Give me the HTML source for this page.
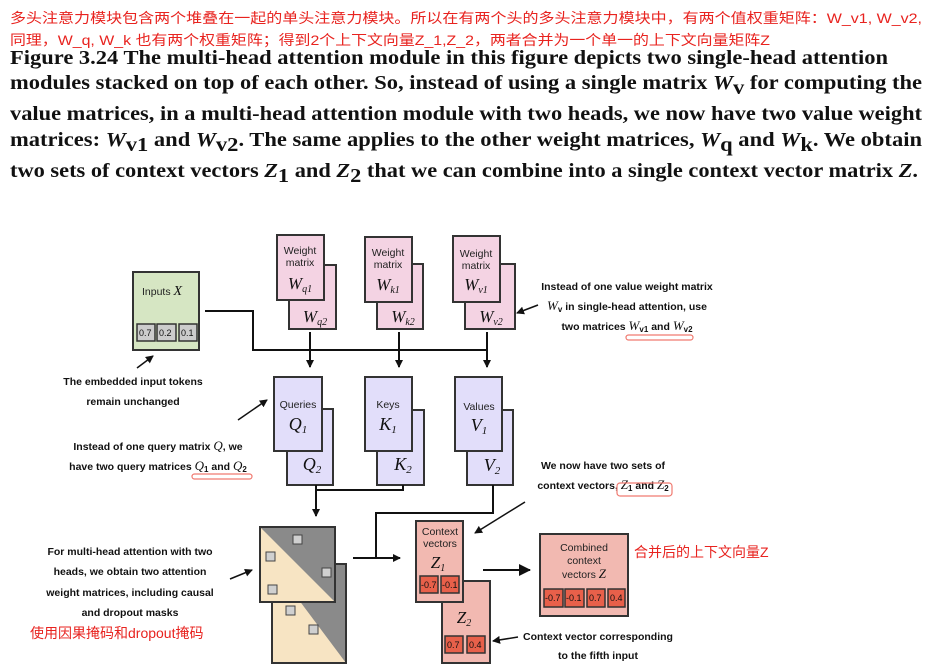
<!DOCTYPE html>
<html><head><meta charset="utf-8"><style>
html,body{margin:0;padding:0;background:#fff;}
svg{display:block;}
.cap{font-family:"Liberation Serif",serif;font-weight:bold;font-size:20px;fill:#111;}
.cn{font-family:"Liberation Sans","Noto Sans CJK SC",sans-serif;font-size:14px;fill:#e8231f;}
.an{font-family:"Liberation Sans",sans-serif;font-weight:bold;font-size:10.5px;fill:#111;}
.lb{font-family:"Liberation Sans",sans-serif;font-size:10.5px;fill:#222;}
.mi{font-family:"Liberation Serif",serif;font-style:italic;fill:#111;}
.cell{font-family:"Liberation Sans",sans-serif;font-size:9px;fill:#111;}
</style></head><body>
<svg width="937" height="666" viewBox="0 0 937 666" xmlns="http://www.w3.org/2000/svg">
<defs><marker id="ah" markerWidth="8" markerHeight="8" refX="7" refY="4" orient="auto" markerUnits="userSpaceOnUse"><path d="M0,0 L8,4 L0,8 z" fill="#111"/></marker>
<marker id="bh" markerWidth="12" markerHeight="12" refX="11" refY="6" orient="auto" markerUnits="userSpaceOnUse"><path d="M0,0 L12,6 L0,12 z" fill="#111"/></marker></defs>

<text class="cn" x="10" y="23" textLength="912" lengthAdjust="spacingAndGlyphs">多头注意力模块包含两个堆叠在一起的单头注意力模块。所以在有两个头的多头注意力模块中，有两个值权重矩阵：W_v1, W_v2,</text>
<text class="cn" x="10" y="45" textLength="760" lengthAdjust="spacingAndGlyphs">同理，W_q, W_k 也有两个权重矩阵；得到2个上下文向量Z_1,Z_2，两者合并为一个单一的上下文向量矩阵Z</text>
<text class="cap" x="10" y="64" textLength="878" lengthAdjust="spacingAndGlyphs">Figure 3.24 The multi-head attention module in this figure depicts two single-head attention</text>
<text class="cap" x="10" y="89" textLength="912" lengthAdjust="spacingAndGlyphs">modules stacked on top of each other. So, instead of using a single matrix <tspan font-style="italic">W</tspan><tspan dy="5">v</tspan><tspan dy="-5"> for computing the</tspan></text>
<text class="cap" x="10" y="120" textLength="912" lengthAdjust="spacingAndGlyphs">value matrices, in a multi-head attention module with two heads, we now have two value weight</text>
<text class="cap" x="10" y="146" textLength="912" lengthAdjust="spacingAndGlyphs">matrices: <tspan font-style="italic">W</tspan><tspan dy="5">v1</tspan><tspan dy="-5"> and </tspan><tspan font-style="italic">W</tspan><tspan dy="5">v2</tspan><tspan dy="-5">. The same applies to the other weight matrices, </tspan><tspan font-style="italic">W</tspan><tspan dy="5">q</tspan><tspan dy="-5"> and </tspan><tspan font-style="italic">W</tspan><tspan dy="5">k</tspan><tspan dy="-5">. We obtain</tspan></text>
<text class="cap" x="10" y="177" textLength="908" lengthAdjust="spacingAndGlyphs">two sets of context vectors <tspan font-style="italic">Z</tspan><tspan dy="5">1</tspan><tspan dy="-5"> and </tspan><tspan font-style="italic">Z</tspan><tspan dy="5">2</tspan><tspan dy="-5"> that we can combine into a single context vector matrix </tspan><tspan font-style="italic">Z</tspan>.</text>

<!-- Inputs -->
<rect x="133" y="272" width="66" height="78" fill="#d6e6c3" stroke="#333" stroke-width="2"/>
<text class="lb" x="142" y="295" font-size="12">Inputs <tspan class="mi" font-size="14">X</tspan></text>
<g stroke="#333" stroke-width="1.5" fill="#ccc"><rect x="137" y="324" width="18" height="17"/><rect x="157" y="324" width="19" height="17"/><rect x="179" y="324" width="18" height="17"/></g>
<text class="cell" x="139" y="336">0.7</text><text class="cell" x="159" y="336">0.2</text><text class="cell" x="181" y="336">0.1</text>

<!-- lines from inputs -->
<polyline points="205,311 253,311 253,350 487,350" fill="none" stroke="#111" stroke-width="2"/>
<g stroke="#111" stroke-width="2" marker-end="url(#ah)">
<line x1="310" y1="332" x2="310" y2="367"/><line x1="399" y1="332" x2="399" y2="367"/><line x1="487" y1="332" x2="487" y2="367"/></g>

<!-- weights -->
<g fill="#f4d3e3" stroke="#333" stroke-width="2">
<rect x="289" y="265" width="47" height="64"/><rect x="277" y="235" width="47" height="65"/>
<rect x="377" y="264" width="46" height="65"/><rect x="365" y="237" width="47" height="65"/>
<rect x="465" y="264" width="50" height="65"/><rect x="453" y="236" width="47" height="66"/></g>
<g class="lb" text-anchor="middle" font-size="10">
<text x="300" y="254">Weight</text><text x="300" y="266">matrix</text>
<text x="388" y="256">Weight</text><text x="388" y="268">matrix</text>
<text x="476" y="257">Weight</text><text x="476" y="269">matrix</text></g>
<g class="mi" font-size="17" text-anchor="middle">
<text x="300" y="289">W<tspan font-size="10" dy="3">q1</tspan></text>
<text x="315" y="322">W<tspan font-size="10" dy="3">q2</tspan></text>
<text x="388" y="290">W<tspan font-size="10" dy="3">k1</tspan></text>
<text x="403" y="322">W<tspan font-size="10" dy="3">k2</tspan></text>
<text x="476" y="290">W<tspan font-size="10" dy="3">v1</tspan></text>
<text x="491" y="322">W<tspan font-size="10" dy="3">v2</tspan></text></g>

<!-- Q K V -->
<g fill="#e2defa" stroke="#333" stroke-width="2">
<rect x="287" y="409" width="46" height="76"/><rect x="274" y="377" width="48" height="74"/>
<rect x="377" y="410" width="47" height="75"/><rect x="365" y="377" width="47" height="74"/>
<rect x="467" y="410" width="46" height="75"/><rect x="455" y="377" width="47" height="74"/></g>
<g class="lb" text-anchor="middle" font-size="10.5">
<text x="298" y="408">Queries</text><text x="388" y="408">Keys</text><text x="479" y="410">Values</text></g>
<g class="mi" font-size="18" text-anchor="middle">
<text x="298" y="430">Q<tspan font-size="11" dy="3">1</tspan></text>
<text x="312" y="470">Q<tspan font-size="11" dy="3">2</tspan></text>
<text x="388" y="430">K<tspan font-size="11" dy="3">1</tspan></text>
<text x="403" y="470">K<tspan font-size="11" dy="3">2</tspan></text>
<text x="479" y="431">V<tspan font-size="11" dy="3">1</tspan></text>
<text x="492" y="471">V<tspan font-size="11" dy="3">2</tspan></text></g>

<!-- join lines -->
<polyline points="316,485 316,490 403,490 403,485" fill="none" stroke="#111" stroke-width="2"/>
<line x1="316" y1="490" x2="316" y2="516" stroke="#111" stroke-width="2" marker-end="url(#ah)"/>
<polyline points="493,485 493,513 376,513 376,558" fill="none" stroke="#111" stroke-width="2"/>
<line x1="353" y1="558" x2="400" y2="558" stroke="#111" stroke-width="2" marker-end="url(#ah)"/>

<!-- masks -->
<g stroke="#333" stroke-width="2">
<rect x="272" y="564" width="74" height="99" fill="#f7e4c3"/>
<polygon points="346,564 346,663 272,564" fill="#8a8a8a" stroke="none"/>
<rect x="272" y="564" width="74" height="99" fill="none"/>
<rect x="260" y="527" width="75" height="75" fill="#f7e4c3"/>
<polygon points="260,527 335,527 335,602" fill="#8a8a8a" stroke="none"/>
<rect x="260" y="527" width="75" height="75" fill="none"/></g>
<g fill="#d0d0d0" stroke="#444" stroke-width="1">
<rect x="293" y="535" width="9" height="9"/><rect x="266" y="552" width="9" height="9"/><rect x="322" y="568" width="9" height="9"/><rect x="268" y="585" width="9" height="9"/>
<rect x="286" y="606" width="9" height="9"/><rect x="309" y="625" width="9" height="9"/></g>

<!-- context -->
<g fill="#f2b9b1" stroke="#333" stroke-width="2">
<rect x="442" y="581" width="48" height="82"/><rect x="416" y="521" width="47" height="81"/>
<rect x="540" y="534" width="88" height="82"/></g>
<g class="lb" text-anchor="middle" font-size="10.5">
<text x="440" y="535">Context</text><text x="440" y="547">vectors</text>
<text x="584" y="551">Combined</text><text x="584" y="564">context</text><text x="584" y="578">vectors <tspan class="mi" font-size="13">Z</tspan></text></g>
<g class="mi" font-size="17" text-anchor="middle">
<text x="438" y="568">Z<tspan font-size="10" dy="3">1</tspan></text>
<text x="464" y="623">Z<tspan font-size="10" dy="3">2</tspan></text></g>
<g fill="#e8604a" stroke="#333" stroke-width="1.5">
<rect x="420" y="576" width="18" height="17"/><rect x="441" y="576" width="18" height="17"/>
<rect x="445" y="636" width="18" height="17"/><rect x="467" y="636" width="18" height="17"/>
<rect x="544" y="589" width="19" height="18"/><rect x="565" y="589" width="19" height="18"/><rect x="587" y="589" width="18" height="18"/><rect x="608" y="589" width="17" height="18"/></g>
<g class="cell" font-size="8.5">
<text x="421" y="588">-0.7</text><text x="442" y="588">-0.1</text>
<text x="447" y="648">0.7</text><text x="469" y="648">0.4</text>
<text x="545" y="601">-0.7</text><text x="566" y="601">-0.1</text><text x="589" y="601">0.7</text><text x="610" y="601">0.4</text></g>
<line x1="483" y1="570" x2="530" y2="570" stroke="#111" stroke-width="2" marker-end="url(#bh)"/>

<!-- annotation arrows -->
<g stroke="#111" stroke-width="1.5" marker-end="url(#ah)">
<line x1="137" y1="368" x2="153" y2="356"/>
<line x1="238" y1="420" x2="267" y2="400"/>
<line x1="230" y1="579" x2="252" y2="570"/>
<line x1="538" y1="305" x2="517" y2="313"/>
<line x1="525" y1="502" x2="475" y2="533"/>
<line x1="518" y1="637" x2="493" y2="641"/></g>

<!-- annotations -->
<g class="an" text-anchor="middle">
<text x="133" y="385">The embedded input tokens</text>
<text x="133" y="405">remain unchanged</text>
<text x="158" y="450">Instead of one query matrix <tspan class="mi" font-size="13" font-weight="normal">Q</tspan>, we</text>
<text x="158" y="470">have two query matrices <tspan class="mi" font-size="13" font-weight="normal">Q</tspan><tspan font-size="8" dy="2">1</tspan><tspan dy="-2"> and </tspan><tspan class="mi" font-size="13" font-weight="normal">Q</tspan><tspan font-size="8" dy="2">2</tspan></text>
<text x="130" y="555">For multi-head attention with two</text>
<text x="130" y="575">heads, we obtain two attention</text>
<text x="130" y="596">weight matrices, including causal</text>
<text x="130" y="616">and dropout masks</text>
<text x="627" y="290">Instead of one value weight matrix</text>
<text x="627" y="310"><tspan class="mi" font-size="13" font-weight="normal">W</tspan><tspan font-size="8" dy="2">v</tspan><tspan dy="-2"> in single-head attention, use</tspan></text>
<text x="627" y="330">two matrices <tspan class="mi" font-size="13" font-weight="normal">W</tspan><tspan font-size="8" dy="2">v1</tspan><tspan dy="-2"> and </tspan><tspan class="mi" font-size="13" font-weight="normal">W</tspan><tspan font-size="8" dy="2">v2</tspan></text>
<text x="603" y="469">We now have two sets of</text>
<text x="603" y="489">context vectors, <tspan class="mi" font-size="13" font-weight="normal">Z</tspan><tspan font-size="8" dy="2">1</tspan><tspan dy="-2"> and </tspan><tspan class="mi" font-size="13" font-weight="normal">Z</tspan><tspan font-size="8" dy="2">2</tspan></text>
<text x="598" y="640">Context vector corresponding</text>
<text x="598" y="659">to the fifth input</text></g>
<g fill="none" stroke="#f07a70" stroke-width="1.2">
<rect x="192" y="474" width="60" height="5" rx="2.5"/>
<rect x="626" y="335" width="67" height="5" rx="2.5"/>
<rect x="617" y="483" width="55" height="13" rx="3"/></g>
<text class="cn" x="30" y="638" font-size="15">使用因果掩码和dropout掩码</text>
<text class="cn" x="634" y="557" font-size="15">合并后的上下文向量Z</text>
</svg>
</body></html>
